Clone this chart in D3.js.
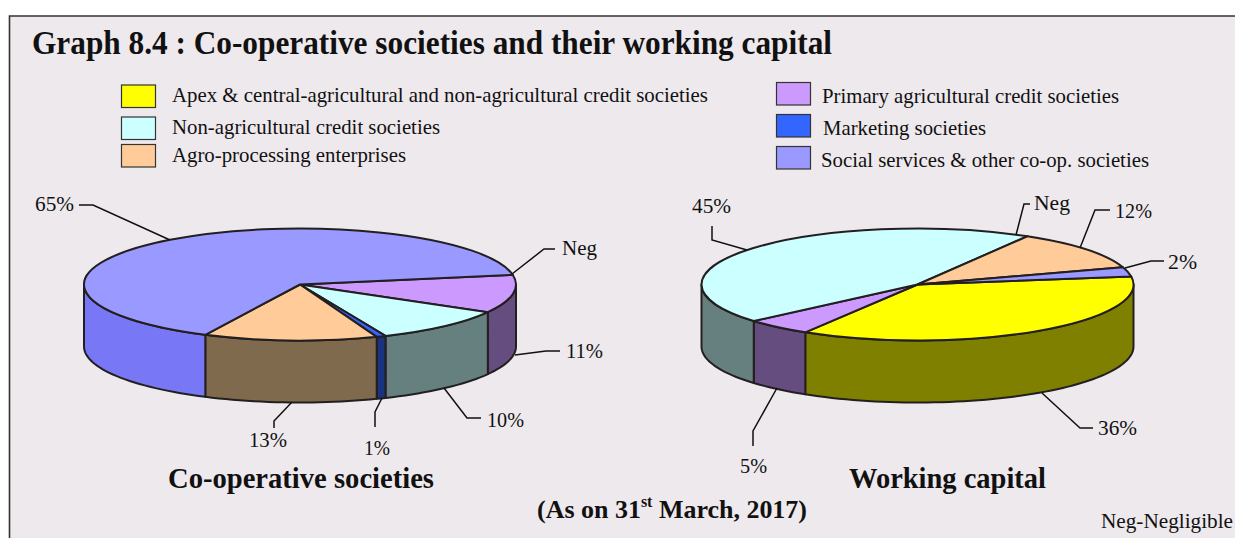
<!DOCTYPE html>
<html><head><meta charset="utf-8">
<style>html,body{margin:0;padding:0;background:#fff}svg{display:block}text{font-family:"Liberation Serif",serif;fill:#111}</style>
<script src="https://cdn.jsdelivr.net/npm/d3@7/dist/d3.min.js"></script>
</head><body><svg id="c" width="1235" height="538"></svg>
<script>
// ---- data ----
const categories = ["Apex & central-agricultural and non-agricultural credit societies","Primary agricultural credit societies","Non-agricultural credit societies","Marketing societies","Agro-processing enterprises","Social services & other co-op. societies"];
const societiesValues = [0, 11, 10.3, 0.7, 13, 65];
const capitalValues   = [36, 5, 44.8, 0, 11.5, 2.7];
const societiesLabels = ["Neg","11%","10%","1%","13%","65%"];
const capitalLabels   = ["36%","5%","45%","Neg","12%","2%"];
const topColors  = ["#FFFF00","#CC99FF","#CCFFFF","#3366FF","#FFCC99","#9999FF"];
const sideColors = ["#808000","#664D80","#668080","#1A3380","#806A4D","#7878F6"];

// ---- layout ----
const W=1235,H=538,INK="#231f20";
const RX=216,RY=56,DEPTH=62;
const svg=d3.select("#c");
svg.append("rect").attr("x",9).attr("y",16).attr("width",W-9).attr("height",H-16).attr("fill","#EEE9ED");
svg.append("path").attr("d","M9.5,538V16H1235").attr("fill","none").attr("stroke","#333").attr("stroke-width",1.6);

function label(t,x0,x1,y,size,bold){
  return svg.append("text").attr("x",x0).attr("y",y).attr("font-size",size).attr("font-weight",bold?"bold":"normal")
    .attr("textLength",x1-x0).attr("lengthAdjust","spacingAndGlyphs").text(t);
}
label("Graph 8.4 : Co-operative societies and their working capital",32,832,54,33,true);

const legendLayout=[
 {i:0,x:121,y:85,tx:172,tx1:708,b:102},
 {i:2,x:121,y:117,tx:172,tx1:440,b:134},
 {i:4,x:121,y:144.5,tx:172,tx1:406,b:161.5},
 {i:1,x:776,y:82.5,tx:822,tx1:1119,b:103},
 {i:3,x:776,y:114.5,tx:823,tx1:986,b:135},
 {i:5,x:776,y:146.5,tx:821,tx1:1149,b:167}];
legendLayout.forEach(l=>{
  svg.append("rect").attr("x",l.x+.5).attr("y",l.y).attr("width",34).attr("height",22.5)
    .attr("fill",topColors[l.i]).attr("stroke","#333").attr("stroke-width",1.2);
  label(categories[l.i],l.tx,l.tx1,l.b,21,false);
});

const deg=Math.PI/180;
function drawPie(values,cx,cy,startDeg){
  const pie=d3.pie().value(d=>d).sort(null).startAngle((90+startDeg)*deg).endAngle((450+startDeg)*deg);
  const slices=pie(values).map((s,i)=>({...s,i})).filter(s=>s.value>0);
  const px=a=>cx+RX*Math.sin(a), py=a=>cy-RY*Math.cos(a);
  const line=d3.line();
  const g=svg.append("g");
  // side walls: only the front half of the rim (90deg to 270deg in pie angles)
  slices.forEach(s=>{
    const a0=Math.max(s.startAngle,90*deg),a1=Math.min(s.endAngle,270*deg);
    if(a1<=a0) return;
    const n=Math.max(2,Math.ceil((a1-a0)/(2*deg)));
    const as=d3.range(n+1).map(k=>a0+(a1-a0)*k/n);
    const pts=as.map(a=>[px(a),py(a)]).concat(as.slice().reverse().map(a=>[px(a),py(a)+DEPTH]));
    g.append("path").attr("d",line(pts)+"Z").attr("fill",sideColors[s.i])
      .attr("stroke",INK).attr("stroke-width",2).attr("stroke-linejoin","round");
  });
  // top face: d3.arc squashed into an ellipse
  const arc=d3.arc().innerRadius(0).outerRadius(RX);
  const top=g.append("g").attr("transform",`translate(${cx},${cy}) scale(1,${RY/RX})`);
  top.selectAll("path").data(slices).join("path").attr("d",arc)
    .attr("fill",d=>topColors[d.i]).attr("stroke",INK).attr("stroke-width",2)
    .attr("stroke-linejoin","round").attr("vector-effect","non-scaling-stroke");
}
drawPie(societiesValues,300,284.5,-10);
drawPie(capitalValues,917.5,284.5,-8.3);

// ---- leader lines and value labels (annotation layout) ----
const leaderLine=d3.line();
const annotations=[
 {t:societiesLabels[5],x0:35,x1:74,b:211,p:[[79,205],[93,205],[170,240]]},
 {t:societiesLabels[0],x0:562,x1:597,b:255,p:[[555,249],[544,249],[512,274]]},
 {t:societiesLabels[1],x0:566,x1:603,b:358,p:[[560,351],[546,351],[515,355]]},
 {t:societiesLabels[2],x0:487,x1:524,b:427,p:[[481,418],[467,418],[444,388]]},
 {t:societiesLabels[4],x0:249,x1:287,b:447,p:[[274,428],[274,421],[292,402]]},
 {t:societiesLabels[3],x0:364,x1:390,b:455,p:[[375,427],[375,412],[382,398]]},
 {t:capitalLabels[2],x0:692,x1:731,b:213,p:[[712,226],[712,240],[747,250]]},
 {t:capitalLabels[3],x0:1034,x1:1070,b:210,p:[[1030,204],[1024,204],[1016,235]]},
 {t:capitalLabels[4],x0:1115,x1:1152,b:218,p:[[1110,210],[1095,210],[1080,248]]},
 {t:capitalLabels[5],x0:1168,x1:1197,b:269,p:[[1164,261],[1151,261],[1125,268]]},
 {t:capitalLabels[0],x0:1098,x1:1137,b:435,p:[[1093,428],[1080,428],[1042,393]]},
 {t:capitalLabels[1],x0:740,x1:767,b:473,p:[[753,446],[753,431],[777,388]]}];
annotations.forEach(a=>{
  svg.append("path").attr("d",leaderLine(a.p)).attr("fill","none").attr("stroke","#111").attr("stroke-width",1.5);
  label(a.t,a.x0,a.x1,a.b,22,false);
});

label("Co-operative societies",168,434,487.5,29.5,true);
label("Working capital",849,1046,487.5,29.5,true);
const asOn=svg.append("text").attr("x",537).attr("y",518).attr("font-size",26).attr("font-weight","bold")
  .attr("textLength",270).attr("lengthAdjust","spacingAndGlyphs");
asOn.append("tspan").text("(As on 31");
asOn.append("tspan").attr("font-size",16).attr("dy",-11).text("st");
asOn.append("tspan").attr("dy",11).text(" March, 2017)");
label("Neg-Negligible",1101,1233,528,20,false);
</script></body></html>
